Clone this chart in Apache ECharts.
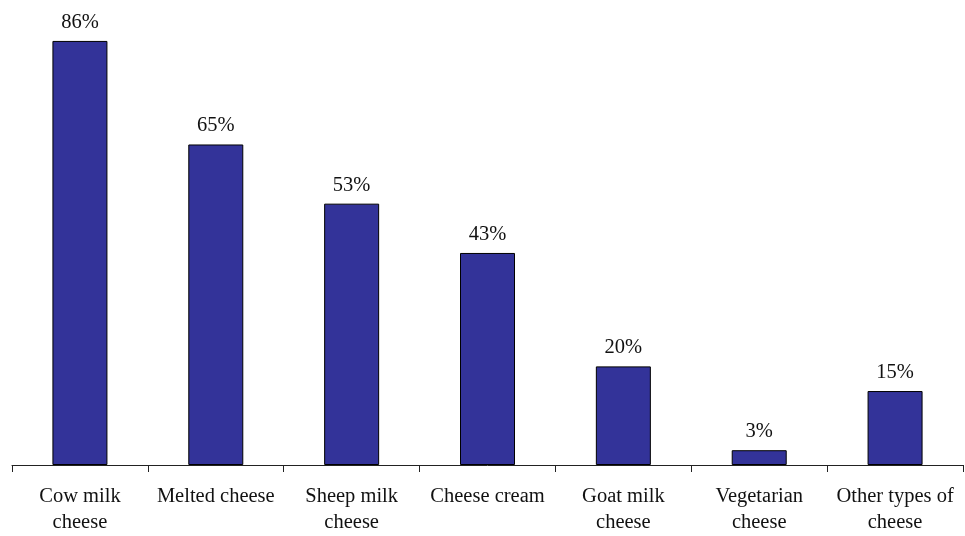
<!DOCTYPE html>
<html><head><meta charset="utf-8">
<script src="https://cdn.jsdelivr.net/npm/echarts@6/dist/echarts.min.js"></script>
<style>html,body{margin:0;padding:0;background:#fff}#c{width:965px;height:536px}</style>
</head><body><div id="c"></div>
<script>
const categories = ["Cow milk\ncheese", "Melted cheese", "Sheep milk\ncheese", "Cheese cream", "Goat milk\ncheese", "Vegetarian\ncheese", "Other types of\ncheese"];
const values = [86, 65, 53, 43, 20, 3, 15];
const font = "'Liberation Serif', 'DejaVu Serif', serif";
const chart = echarts.init(document.getElementById('c'));
chart.setOption({
  animation: false,
  grid: {left: 12, right: 2, top: 0, bottom: 71, containLabel: false},
  xAxis: {
    type: 'category', data: categories,
    axisLine: {lineStyle: {color: '#222', width: 1}},
    axisTick: {show: true, length: 7, alignWithLabel: false, lineStyle: {color: '#222'}},
    axisLabel: {interval: 0, color: '#111', fontFamily: font, fontSize: 20.5, lineHeight: 26, margin: 19}
  },
  yAxis: {type: 'value', min: 0, max: 94.3, show: false, splitLine: {show: false}},
  series: [{
    type: 'bar', data: values, barWidth: 55,
    itemStyle: {color: '#333399', borderColor: '#000', borderWidth: 1},
    label: {show: true, position: 'top', distance: 8, formatter: '{c}%', color: '#111', fontFamily: font, fontSize: 20.5}
  }]
});
</script></body></html>
